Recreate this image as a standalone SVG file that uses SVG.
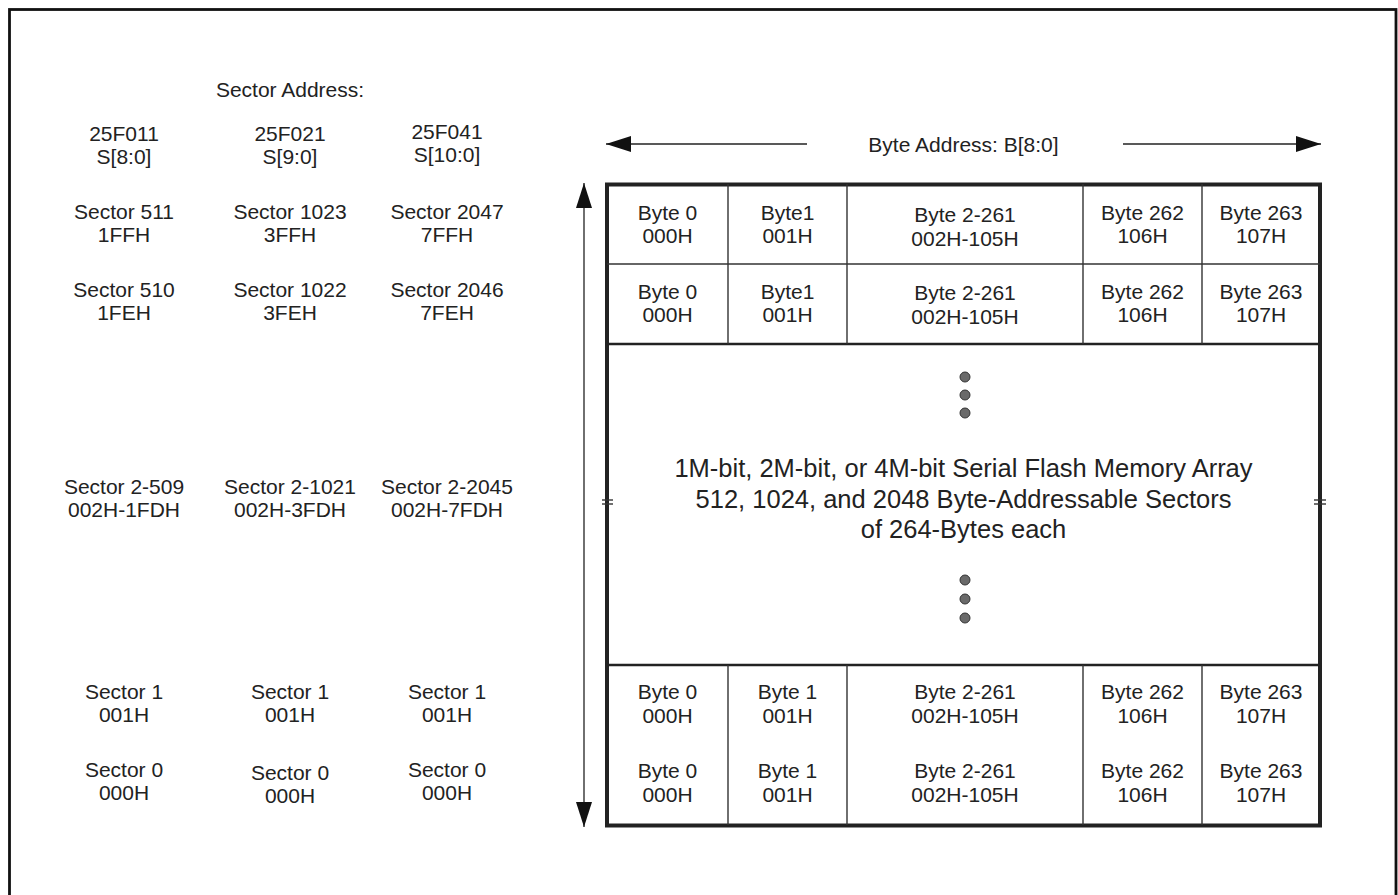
<svg xmlns="http://www.w3.org/2000/svg" width="1398" height="895" viewBox="0 0 1398 895">
<style>
text{font-family:"Liberation Sans",Arial,sans-serif;font-size:21px;fill:#222;text-anchor:middle}
.big{font-size:25.5px}
.frame{fill:none;stroke:#111;stroke-width:2.8}
.box{fill:none;stroke:#222;stroke-width:4}
.thin{stroke:#333;stroke-width:1.4}
.sep{stroke:#222;stroke-width:2.6}
.arr{stroke:#222;stroke-width:1.3;fill:none}
.dot{fill:#6a6a6a;stroke:#333;stroke-width:1}
</style>
<defs>
<marker id="ah" markerUnits="userSpaceOnUse" viewBox="0 0 25 16" markerWidth="25" markerHeight="16" refX="25" refY="8" orient="auto-start-reverse">
<path d="M0,0 L25,8 L0,16 z" fill="#111"/>
</marker>
</defs>
<rect width="1398" height="895" fill="#fff"/>
<rect class="frame" x="9.5" y="9.5" width="1386.5" height="905"/>

<g id="sector-labels">
<text x="290" y="97">Sector Address:</text>
<g id="dev-25F011"><text x="124" y="141">25F011</text><text x="124" y="164">S[8:0]</text></g>
<g id="dev-25F021"><text x="290" y="141">25F021</text><text x="290" y="164">S[9:0]</text></g>
<g id="dev-25F041"><text x="447" y="139">25F041</text><text x="447" y="162">S[10:0]</text></g>
<g id="s511"><text x="124" y="219">Sector 511</text><text x="124" y="242">1FFH</text></g>
<g id="s1023"><text x="290" y="219">Sector 1023</text><text x="290" y="242">3FFH</text></g>
<g id="s2047"><text x="447" y="219">Sector 2047</text><text x="447" y="242">7FFH</text></g>
<g id="s510"><text x="124" y="297">Sector 510</text><text x="124" y="320">1FEH</text></g>
<g id="s1022"><text x="290" y="297">Sector 1022</text><text x="290" y="320">3FEH</text></g>
<g id="s2046"><text x="447" y="297">Sector 2046</text><text x="447" y="320">7FEH</text></g>
<g id="s2-509"><text x="124" y="494">Sector 2-509</text><text x="124" y="517">002H-1FDH</text></g>
<g id="s2-1021"><text x="290" y="494">Sector 2-1021</text><text x="290" y="517">002H-3FDH</text></g>
<g id="s2-2045"><text x="447" y="494">Sector 2-2045</text><text x="447" y="517">002H-7FDH</text></g>
<g id="s1-a"><text x="124" y="699">Sector 1</text><text x="124" y="722">001H</text></g>
<g id="s1-b"><text x="290" y="699">Sector 1</text><text x="290" y="722">001H</text></g>
<g id="s1-c"><text x="447" y="699">Sector 1</text><text x="447" y="722">001H</text></g>
<g id="s0-a"><text x="124" y="777">Sector 0</text><text x="124" y="800">000H</text></g>
<g id="s0-b"><text x="290" y="780">Sector 0</text><text x="290" y="803">000H</text></g>
<g id="s0-c"><text x="447" y="777">Sector 0</text><text x="447" y="800">000H</text></g>
</g>

<g id="memory-array">
<rect class="box" x="607" y="184.5" width="713" height="641"/>
<line class="thin" x1="607" y1="264" x2="1320" y2="264"/>
<line class="sep" x1="607" y1="344" x2="1320" y2="344"/>
<line class="sep" x1="607" y1="665" x2="1320" y2="665"/>
<g id="cols-top">
<line class="thin" x1="728" y1="184" x2="728" y2="344"/>
<line class="thin" x1="847" y1="184" x2="847" y2="344"/>
<line class="thin" x1="1083" y1="184" x2="1083" y2="344"/>
<line class="thin" x1="1202" y1="184" x2="1202" y2="344"/>
</g>
<g id="cols-bottom">
<line class="thin" x1="728" y1="665" x2="728" y2="825"/>
<line class="thin" x1="847" y1="665" x2="847" y2="825"/>
<line class="thin" x1="1083" y1="665" x2="1083" y2="825"/>
<line class="thin" x1="1202" y1="665" x2="1202" y2="825"/>
</g>
<g id="breaks">
<line class="thin" x1="602" y1="500" x2="613" y2="500"/>
<line class="thin" x1="602" y1="504" x2="613" y2="504"/>
<line class="thin" x1="1314" y1="500" x2="1326" y2="500"/>
<line class="thin" x1="1314" y1="504" x2="1326" y2="504"/>
</g>
<g id="row-top1">
<text x="667.5" y="220">Byte 0</text><text x="667.5" y="243">000H</text>
<text x="787.5" y="220">Byte1</text><text x="787.5" y="243">001H</text>
<text x="965" y="222">Byte 2-261</text><text x="965" y="246">002H-105H</text>
<text x="1142.5" y="220">Byte 262</text><text x="1142.5" y="243">106H</text>
<text x="1261" y="220">Byte 263</text><text x="1261" y="243">107H</text>
</g>
<g id="row-top2">
<text x="667.5" y="299">Byte 0</text><text x="667.5" y="322">000H</text>
<text x="787.5" y="299">Byte1</text><text x="787.5" y="322">001H</text>
<text x="965" y="300">Byte 2-261</text><text x="965" y="324">002H-105H</text>
<text x="1142.5" y="299">Byte 262</text><text x="1142.5" y="322">106H</text>
<text x="1261" y="299">Byte 263</text><text x="1261" y="322">107H</text>
</g>
<g id="middle">
<circle class="dot" cx="965" cy="377" r="5"/>
<circle class="dot" cx="965" cy="395" r="5"/>
<circle class="dot" cx="965" cy="413" r="5"/>
<text class="big" x="963.5" y="477">1M-bit, 2M-bit, or 4M-bit Serial Flash Memory Array</text>
<text class="big" x="963.5" y="508">512, 1024, and 2048 Byte-Addressable Sectors</text>
<text class="big" x="963.5" y="538">of 264-Bytes each</text>
<circle class="dot" cx="965" cy="580" r="5"/>
<circle class="dot" cx="965" cy="599" r="5"/>
<circle class="dot" cx="965" cy="618" r="5"/>
</g>
<g id="row-bot1">
<text x="667.5" y="699">Byte 0</text><text x="667.5" y="723">000H</text>
<text x="787.5" y="699">Byte 1</text><text x="787.5" y="723">001H</text>
<text x="965" y="699">Byte 2-261</text><text x="965" y="723">002H-105H</text>
<text x="1142.5" y="699">Byte 262</text><text x="1142.5" y="723">106H</text>
<text x="1261" y="699">Byte 263</text><text x="1261" y="723">107H</text>
</g>
<g id="row-bot2">
<text x="667.5" y="778">Byte 0</text><text x="667.5" y="802">000H</text>
<text x="787.5" y="778">Byte 1</text><text x="787.5" y="802">001H</text>
<text x="965" y="778">Byte 2-261</text><text x="965" y="802">002H-105H</text>
<text x="1142.5" y="778">Byte 262</text><text x="1142.5" y="802">106H</text>
<text x="1261" y="778">Byte 263</text><text x="1261" y="802">107H</text>
</g>
</g>

<g id="byte-address-label"><text x="963.5" y="152">Byte Address: B[8:0]</text></g>

<g id="connectors">
<line class="arr" x1="807" y1="144" x2="606" y2="144" marker-end="url(#ah)"/>
<line class="arr" x1="1123" y1="144" x2="1321" y2="144" marker-end="url(#ah)"/>
<line class="arr" x1="584" y1="183" x2="584" y2="827" marker-start="url(#ah)" marker-end="url(#ah)"/>
</g>
</svg>
